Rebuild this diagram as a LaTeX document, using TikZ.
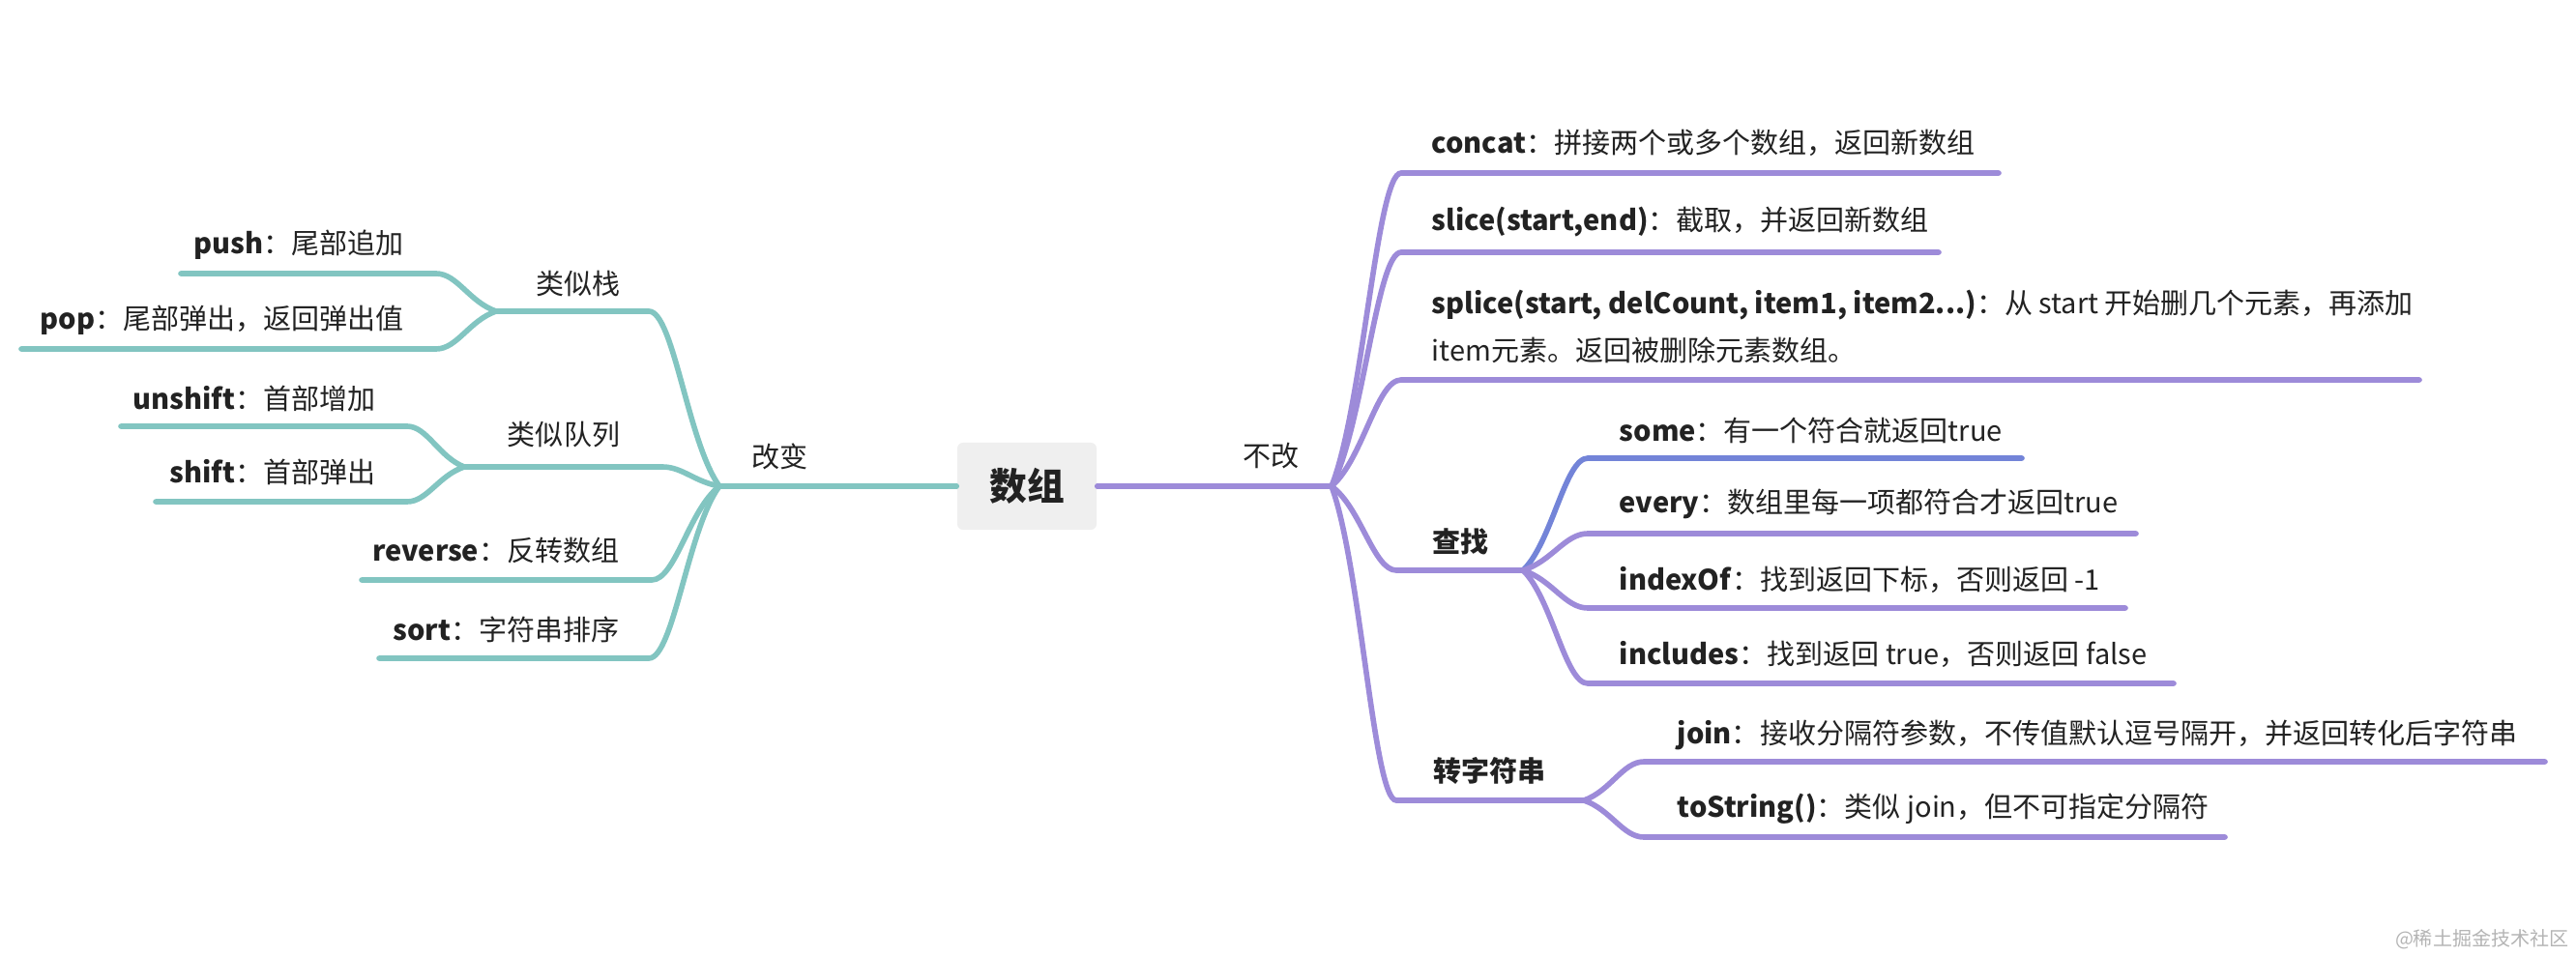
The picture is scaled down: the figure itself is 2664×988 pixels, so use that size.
\documentclass[tikz,border=0pt]{standalone}
\usepackage{fontspec}
\setmainfont{Noto Sans CJK SC}
\usetikzlibrary{calc}

\definecolor{tealbr}{HTML}{82C5C1}
\definecolor{purplebr}{HTML}{9D8BD9}
\definecolor{bluebr}{HTML}{7384D8}
\definecolor{rootfill}{HTML}{EFEFEF}
\definecolor{ink}{HTML}{222222}
\definecolor{markgray}{HTML}{B4B4B4}

\begin{document}
\begin{tikzpicture}[x=0.01cm, y=-0.01cm,
  every node/.style={inner sep=0pt, text=ink, font=\fontsize{8.25pt}{10pt}\selectfont},
  root/.style={fill=rootfill, rounded corners=0.06cm, minimum width=1.44cm, minimum height=0.9cm,
    font=\fontsize{11pt}{13pt}\selectfont\bfseries},
  leafl/.style={anchor=east},
  leafr/.style={anchor=west, align=left},
  chg/.style={draw=tealbr, line width=1.6pt, line cap=round},
  keep/.style={draw=purplebr, line width=1.6pt, line cap=round},
  branch/.style={to path={let \p1=(\tikztostart), \p2=(\tikztotarget) in
    .. controls ({\x1+0.45*(\x2-\x1)}, {\y1+0.25*(\y2-\y1)}) and ({\x2-0.35*(\x2-\x1)}, {\y2}) .. (\tikztotarget)}}
]
\useasboundingbox (0,0) rectangle (2664,988);

% junctions and line ends
\coordinate (jl) at (744,503);
\coordinate (jstack) at (513,322);
\coordinate (stackA) at (671,322);
\coordinate (pushA) at (451,283);
\coordinate (pushB) at (187,283);
\coordinate (popA) at (451,361);
\coordinate (popB) at (22,361);
\coordinate (jqueue) at (480,483);
\coordinate (queueA) at (685,483);
\coordinate (unshiftA) at (421,441);
\coordinate (unshiftB) at (125,441);
\coordinate (shiftA) at (421,519);
\coordinate (shiftB) at (161,519);
\coordinate (reverseA) at (674,600);
\coordinate (reverseB) at (374,600);
\coordinate (sortA) at (671,681);
\coordinate (sortB) at (392,681);

\coordinate (jr) at (1377,503);
\coordinate (concatA) at (1449,179);
\coordinate (concatB) at (2067,179);
\coordinate (sliceA) at (1449,261);
\coordinate (sliceB) at (2005,261);
\coordinate (spliceA) at (1449,393);
\coordinate (spliceB) at (2502,393);
\coordinate (findA) at (1444,590);
\coordinate (jfind) at (1575,590);
\coordinate (someA) at (1642,474);
\coordinate (someB) at (2091,474);
\coordinate (everyA) at (1642,552);
\coordinate (everyB) at (2209,552);
\coordinate (indexA) at (1642,629);
\coordinate (indexB) at (2198,629);
\coordinate (inclA) at (1642,707);
\coordinate (inclB) at (2248,707);
\coordinate (strA) at (1444,828);
\coordinate (jstr) at (1638,828);
\coordinate (joinA) at (1700,788);
\coordinate (joinB) at (2632,788);
\coordinate (tostrA) at (1700,866);
\coordinate (tostrB) at (2301,866);

% left side
\draw[chg] (jl) to[branch] (stackA) -- (jstack);
\draw[chg] (jstack) to[branch] (pushA) -- (pushB);
\draw[chg] (jstack) to[branch] (popA) -- (popB);
\draw[chg] (jl) to[branch] (queueA) -- (jqueue);
\draw[chg] (jqueue) to[branch] (unshiftA) -- (unshiftB);
\draw[chg] (jqueue) to[branch] (shiftA) -- (shiftB);
\draw[chg] (jl) to[branch] (reverseA) -- (reverseB);
\draw[chg] (jl) to[branch] (sortA) -- (sortB);

% right side
\draw[keep] (jr) to[branch] (concatA) -- (concatB);
\draw[keep] (jr) to[branch] (sliceA) -- (sliceB);
\draw[keep] (jr) to[branch] (spliceA) -- (spliceB);
\draw[keep] (jr) to[branch] (findA) -- (jfind);
\draw[keep, draw=bluebr] (jfind) to[branch] (someA) -- (someB);
\draw[keep] (jfind) to[branch] (everyA) -- (everyB);
\draw[keep] (jfind) to[branch] (indexA) -- (indexB);
\draw[keep] (jfind) to[branch] (inclA) -- (inclB);
\draw[keep] (jr) to[branch] (strA) -- (jstr);
\draw[keep] (jstr) to[branch] (joinA) -- (joinB);
\draw[keep] (jstr) to[branch] (tostrA) -- (tostrB);

% root
\node[root] (arr) at (1062,503) {数组};
\draw[chg] (arr.west) -- (jl);
\draw[keep] (arr.east) -- (jr);

% labels, left
\node (change) at (806,472) {改变};
\node (stack) at (598,293) {类似栈};
\node[leafl] (push) at (418,253) {\textbf{push}：尾部追加};
\node[leafl] (pop) at (418,331) {\textbf{pop}：尾部弹出，返回弹出值};
\node (queue) at (583,450) {类似队列};
\node[leafl] (unshift) at (389,412) {\textbf{unshift}：首部增加};
\node[leafl] (shift) at (389,488) {\textbf{shift}：首部弹出};
\node[leafl] (reverse) at (641,570) {\textbf{reverse}：反转数组};
\node[leafl] (sort) at (641,651) {\textbf{sort}：字符串排序};

% labels, right
\node (nochange) at (1314,472) {不改};
\node[leafr] (concat) at (1480,148) {\textbf{concat}：拼接两个或多个数组，返回新数组};
\node[leafr] (slice) at (1480,230) {\textbf{slice(start,end)}：截取，并返回新数组};
\node[leafr, font=\fontsize{8.25pt}{14.2pt}\selectfont] (splice) at (1480,338)
  {\textbf{splice(start, delCount, item1, item2...)}：从 start 开始删几个元素，再添加\\item元素。返回被删除元素数组。};
\node[font=\fontsize{8.25pt}{10pt}\selectfont\bfseries] (find) at (1510,560) {查找};
\node[leafr] (some) at (1674,445) {\textbf{some}：有一个符合就返回true};
\node[leafr] (every) at (1674,521) {\textbf{every}：数组里每一项都符合才返回true};
\node[leafr] (indexof) at (1674,600) {\textbf{indexOf}：找到返回下标，否则返回 -1};
\node[leafr] (includes) at (1674,677) {\textbf{includes}：找到返回 true，否则返回 false};
\node[font=\fontsize{8.25pt}{10pt}\selectfont\bfseries] (tostr) at (1540,797) {转字符串};
\node[leafr] (join) at (1734,760) {\textbf{join}：接收分隔符参数，不传值默认逗号隔开，并返回转化后字符串};
\node[leafr] (tostring) at (1734,837) {\textbf{toString()}：类似 join，但不可指定分隔符};

\node[anchor=east, text=markgray, font=\fontsize{5.7pt}{7pt}\selectfont] (mark) at (2657,972) {@稀土掘金技术社区};
\end{tikzpicture}
\end{document}
